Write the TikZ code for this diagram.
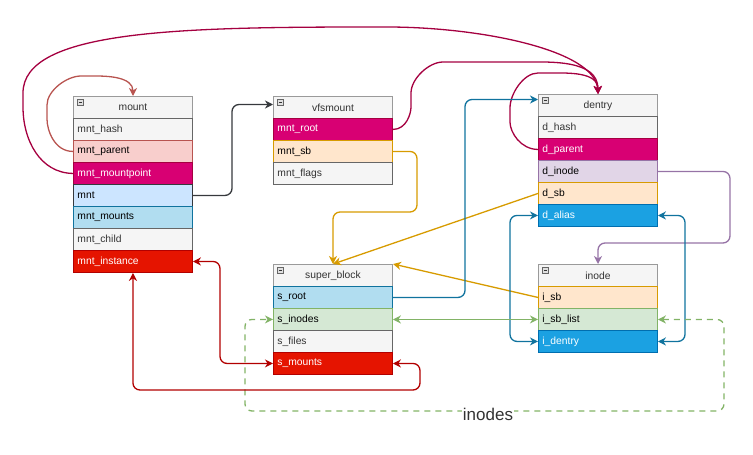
\documentclass[tikz,border=0pt]{standalone}
\usepackage{fontspec}
\setmainfont{Liberation Sans}
\usetikzlibrary{arrows.meta}
\definecolor{cF5}{HTML}{F5F5F5}
\definecolor{c66}{HTML}{666666}
\definecolor{c33}{HTML}{333333}
\definecolor{hdrline}{HTML}{9A9A9A}
\definecolor{pinkF}{HTML}{F8CECC}
\definecolor{pinkD}{HTML}{B85450}
\definecolor{magF}{HTML}{D80073}
\definecolor{magD}{HTML}{A50040}
\definecolor{ltbF}{HTML}{CCE5FF}
\definecolor{ltbD}{HTML}{36393D}
\definecolor{skyF}{HTML}{B1DDF0}
\definecolor{skyD}{HTML}{10739E}
\definecolor{redF}{HTML}{E51400}
\definecolor{redD}{HTML}{B20000}
\definecolor{peaF}{HTML}{FFE6CC}
\definecolor{peaD}{HTML}{D79B00}
\definecolor{lilF}{HTML}{E1D5E7}
\definecolor{lilD}{HTML}{9673A6}
\definecolor{bluF}{HTML}{1BA1E2}
\definecolor{bluD}{HTML}{006EAF}
\definecolor{grnF}{HTML}{D5E8D4}
\definecolor{grnD}{HTML}{82B366}
\begin{document}
\begin{tikzpicture}[x=1pt,y=-1pt,
  txt/.style={font=\fontsize{10.3}{12}\selectfont},
  hdr/.style={txt, draw=hdrline, fill=cF5, line width=1pt, minimum width=119pt, minimum height=22pt, anchor=north west, inner sep=0pt, text=c33},
  fld/.style={txt, minimum width=119pt, minimum height=22pt, anchor=north west, text width=111pt, inner xsep=4pt, inner ysep=0pt, align=left, line width=0.9pt},
  fgray/.style={fld, fill=cF5, draw=c66, text=c33},
  fpink/.style={fld, fill=pinkF, draw=pinkD, text=black},
  fmag/.style={fld, fill=magF, draw=magD, text=white},
  fltb/.style={fld, fill=ltbF, draw=ltbD, text=black},
  fsky/.style={fld, fill=skyF, draw=skyD, text=black},
  fred/.style={fld, fill=redF, draw=redD, text=white},
  fpea/.style={fld, fill=peaF, draw=peaD, text=black},
  flil/.style={fld, fill=lilF, draw=lilD, text=black},
  fblu/.style={fld, fill=bluF, draw=bluD, text=white},
  fgrn/.style={fld, fill=grnF, draw=grnD, text=black},
  tip/.tip={Stealth[length=8pt,width=8pt,inset=2.5pt]},
  conn/.style={line width=1.3pt, rounded corners=7pt, -tip},
  both/.style={line width=1.3pt, rounded corners=7pt, tip-tip},
]
\useasboundingbox (0,0) rectangle (753,455);
% mount
\node[hdr] (mount) at (73,96) {mount};
\node[fgray] (mhash) at (73,118) {mnt\_hash};
\node[fpink] (mparent) at (73,140) {mnt\_parent};
\node[fmag] (mmp) at (73,162) {mnt\_mountpoint};
\node[fltb] (mnt) at (73,184) {mnt};
\node[fsky] (mmounts) at (73,206) {mnt\_mounts};
\node[fgray] (mchild) at (73,228) {mnt\_child};
\node[fred] (minst) at (73,250) {mnt\_instance};
% vfsmount
\node[hdr] (vfs) at (273,96) {vfsmount};
\node[fmag] (vroot) at (273,118) {mnt\_root};
\node[fpea] (vsb) at (273,140) {mnt\_sb};
\node[fgray] (vflags) at (273,162) {mnt\_flags};
% dentry
\node[hdr] (dentry) at (538,94) {dentry};
\node[fgray] (dhash) at (538,116) {d\_hash};
\node[fmag] (dparent) at (538,138) {d\_parent};
\node[flil] (dinode) at (538,160) {d\_inode};
\node[fpea] (dsb) at (538,182) {d\_sb};
\node[fblu] (dalias) at (538,204) {d\_alias};
% super_block
\node[hdr] (sb) at (273,264) {super\_block};
\node[fsky] (sroot) at (273,286) {s\_root};
\node[fgrn] (sinodes) at (273,308) {s\_inodes};
\node[fgray] (sfiles) at (273,330) {s\_files};
\node[fred] (smounts) at (273,352) {s\_mounts};
% inode
\node[hdr] (inode) at (538,264) {inode};
\node[fpea] (isb) at (538,286) {i\_sb};
\node[fgrn] (isblist) at (538,308) {i\_sb\_list};
\node[fblu] (identry) at (538,330) {i\_dentry};
% collapse icons
\foreach \h in {mount,vfs,dentry,sb,inode}{
  \draw[draw=c66, fill=white!88!black, line width=0.6pt] ([shift={(4.5,3.5)}]\h.north west) rectangle ++(6,6);
  \draw[line width=1.2pt, c33] ([shift={(5.8,6.5)}]\h.north west) -- ++(3.4,0);
}
% connectors
\draw[conn, pinkD] (mparent.west) to[out=180,in=270] (47,112) to[out=90,in=180] (88,76) to[out=0,in=90] (mount.north);
\draw[conn, magD] (mmp.west) .. controls (40,173) and (23,140) .. (23,100) .. controls (23,30) and (180,27) .. (380,27) .. controls (480,27) and (595,50) .. (dentry.north);
\draw[conn, magD] (vroot.east) to[out=0,in=270] (411,100) to[out=90,in=180] (450,62) -- (515,62) to[out=0,in=90] (dentry.north);
\draw[conn, magD] (dparent.west) to[out=180,in=270] (510,115) to[out=90,in=180] (545,73) to[out=0,in=90] (dentry.north);
\draw[conn, ltbD] (mnt.east) -| (232,150) |- ([yshift=3pt]vfs.west);
\draw[conn, peaD] (vsb.east) -| (417,212) -| (sb.north);
\draw[conn, peaD] (dsb.west) -- (sb.north);
\draw[conn, peaD] (isb.west) -- (sb.north east);
\draw[conn, lilD] (dinode.east) -| (730,243) -| (inode.north);
\draw[conn, skyD] (sroot.east) -| (465,200) |- ([yshift=6pt]dentry.west);
\draw[both, skyD] (dalias.west) -| (510,280) |- (identry.west);
\draw[both, skyD] (dalias.east) -| (685,280) |- (identry.east);
\draw[both, grnD] (sinodes.east) -- (isblist.west);
\draw[both, grnD, dash pattern=on 6pt off 5pt] (isblist.east) -| (724,411) -| (245,360) |- (sinodes.west);
\node[fill=white, inner sep=1pt, text=c33, font=\fontsize{17}{20}\selectfont] (lbl) at (488,414) {inodes};
\draw[both, redD] (minst.east) -| (220,300) |- (smounts.west);
\draw[both, redD] (smounts.east) -| (420,390) -| (minst.south);
\end{tikzpicture}
\end{document}
